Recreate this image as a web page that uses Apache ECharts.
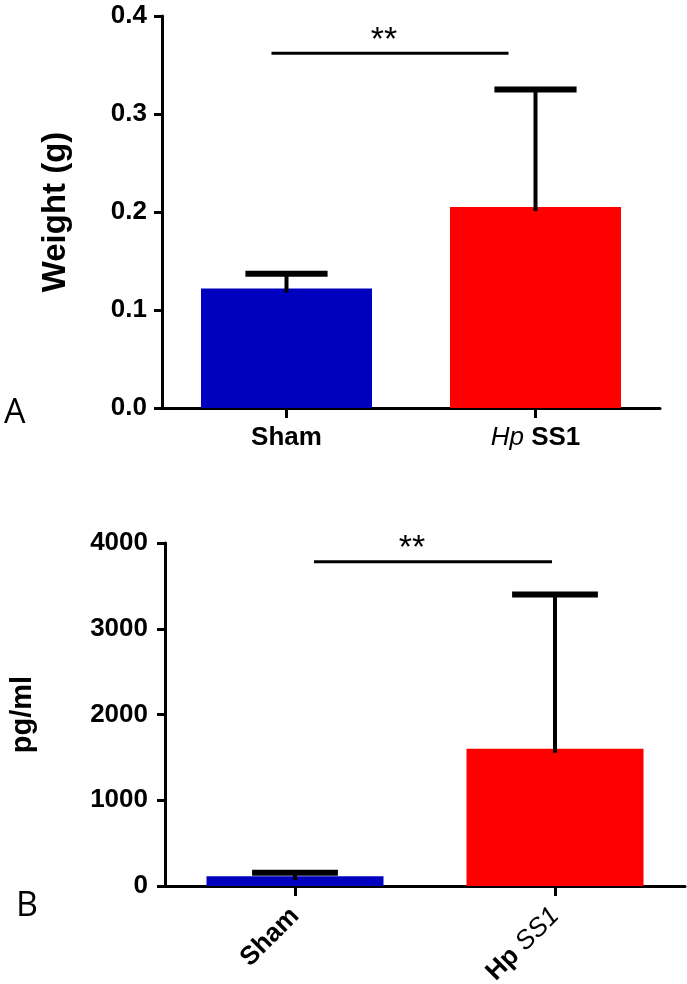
<!DOCTYPE html>
<html><head><meta charset="utf-8">
<script src="https://cdn.jsdelivr.net/npm/echarts@6/dist/echarts.min.js"></script>
<style>html,body{margin:0;padding:0;background:#fff}#c{width:687px;height:984px}</style>
</head><body><div id="c"></div>
<script>
// ---- data ----
var categories = ['Sham', 'Hp SS1'];
var weightMean = [0.122, 0.205];
var weightUpper = [0.137, 0.325];
var weightSig = 0.362;
var weightTicks = [0, 0.1, 0.2, 0.3, 0.4];
var pgMean = [115, 1600];
var pgUpper = [155, 3400];
var pgSig = 3780;
var pgTicks = [0, 1000, 2000, 3000, 4000];
var barColors = ['#0000BF', '#FF0000'];

var SANS = '"Liberation Sans",Arial,sans-serif';

function errRender(params, api) {
  var i = api.value(0);
  var top = api.coord([i, api.value(2)]);
  var base = api.coord([i, api.value(1)]);
  var half = api.size([1, 0])[0] * 0.165;
  return {type: 'group', children: [
    {type: 'line', shape: {x1: top[0], y1: top[1], x2: base[0], y2: base[1] + 4}, style: {stroke: '#000', lineWidth: 4}},
    {type: 'line', shape: {x1: top[0] - half, y1: top[1], x2: top[0] + half, y2: top[1]}, style: {stroke: '#000', lineWidth: 6}}
  ]};
}
function sigRender(offA, offB, textShift) {
  return function (params, api) {
    var a = api.coord([0, api.value(2)]);
    var b = api.coord([1, api.value(2)]);
    var x1 = a[0] + offA, x2 = b[0] + offB;
    return {type: 'group', children: [
      {type: 'line', shape: {x1: x1, y1: a[1], x2: x2, y2: a[1]}, style: {stroke: '#000', lineWidth: 3}},
      {type: 'text', style: {text: '**', x: (x1 + x2) / 2 + textShift, y: a[1] + 4, align: 'center', verticalAlign: 'bottom', font: '34px ' + SANS, fill: '#000'}}
    ]};
  };
}

var chart = echarts.init(document.getElementById('c'), null, {renderer: 'canvas'});
var axisLine = {show: true, lineStyle: {color: '#000', width: 3}};
var axisTick = {show: true, inside: false, lineStyle: {color: '#000', width: 3}};

chart.setOption({
  animation: false,
  backgroundColor: '#fff',
  graphic: [
    {type: 'text', left: 4, top: 396, style: {text: 'A', font: '34px "Open Sans",sans-serif', fill: '#000'}},
    {type: 'text', left: 16, top: 889, style: {text: 'B', font: '34px "Open Sans",sans-serif', fill: '#000'}}
  ],
  grid: [
    {left: 162, top: 16, width: 498, height: 392, outerBoundsMode: 'none', containLabel: false},
    {left: 165, top: 543, width: 520, height: 343, outerBoundsMode: 'none', containLabel: false}
  ],
  xAxis: [
    {gridIndex: 0, type: 'category', data: categories, boundaryGap: true,
     axisLine: axisLine, axisTick: Object.assign({alignWithLabel: true, length: 10}, axisTick),
     axisLabel: {margin: 17, color: '#000', fontFamily: SANS, fontSize: 26, fontWeight: 'bold',
       formatter: function (v) { return v === 'Hp SS1' ? '{i|Hp} {b|SS1}' : '{b|' + v + '}'; },
       rich: {i: {fontFamily: SANS, fontSize: 26, fontStyle: 'italic', fontWeight: 'normal', color: '#000'},
              b: {fontFamily: SANS, fontSize: 26, fontWeight: 'bold', color: '#000'}}},
     splitLine: {show: false}},
    {gridIndex: 1, type: 'category', data: categories, boundaryGap: true,
     axisLine: axisLine, axisTick: Object.assign({alignWithLabel: true, length: 10}, axisTick),
     axisLabel: {margin: 26, rotate: 45, color: '#000', fontFamily: SANS, fontSize: 26, fontWeight: 'bold',
       formatter: function (v) { return v === 'Hp SS1' ? '{b|Hp} {i|SS1}' : '{b|' + v + '}'; },
       rich: {i: {fontFamily: SANS, fontSize: 26, fontStyle: 'italic', fontWeight: 'normal', color: '#000'},
              b: {fontFamily: SANS, fontSize: 26, fontWeight: 'bold', color: '#000'}}},
     splitLine: {show: false}}
  ],
  yAxis: [
    {gridIndex: 0, type: 'value', min: weightTicks[0], max: weightTicks[weightTicks.length - 1], interval: 0.1,
     name: 'Weight (g)', nameLocation: 'middle', nameRotate: 90, nameGap: 90,
     nameTextStyle: {fontFamily: SANS, fontSize: 33, fontWeight: 'bold', color: '#000'},
     axisLine: axisLine, axisTick: Object.assign({length: 8}, axisTick),
     axisLabel: {margin: 15, color: '#000', fontFamily: SANS, fontSize: 26, fontWeight: 'bold',
       formatter: function (v) { return v.toFixed(1); }},
     splitLine: {show: false}},
    {gridIndex: 1, type: 'value', min: pgTicks[0], max: pgTicks[pgTicks.length - 1], interval: 1000,
     name: 'pg/ml', nameLocation: 'middle', nameRotate: 90, nameGap: 128,
     nameTextStyle: {fontFamily: SANS, fontSize: 29, fontWeight: 'bold', color: '#000'},
     axisLine: axisLine, axisTick: Object.assign({length: 8}, axisTick),
     axisLabel: {margin: 17, color: '#000', fontFamily: SANS, fontSize: 26, fontWeight: 'bold',
       formatter: function (v) { return String(v); }},
     splitLine: {show: false}}
  ],
  series: [
    {type: 'bar', xAxisIndex: 0, yAxisIndex: 0, barWidth: 171, z: 2,
     data: weightMean.map(function (v, i) { return {value: v, itemStyle: {color: barColors[i]}}; })},
    {type: 'custom', xAxisIndex: 0, yAxisIndex: 0, z: 3, renderItem: errRender,
     data: weightMean.map(function (v, i) { return [i, v, weightUpper[i]]; })},
    {type: 'custom', xAxisIndex: 0, yAxisIndex: 0, z: 3, renderItem: sigRender(-15, -27, -6),
     data: [[0, 1, weightSig]]},
    {type: 'bar', xAxisIndex: 1, yAxisIndex: 1, barWidth: 177, z: 2,
     data: pgMean.map(function (v, i) { return {value: v, itemStyle: {color: barColors[i]}}; })},
    {type: 'custom', xAxisIndex: 1, yAxisIndex: 1, z: 3, renderItem: errRender,
     data: pgMean.map(function (v, i) { return [i, v, pgUpper[i]]; })},
    {type: 'custom', xAxisIndex: 1, yAxisIndex: 1, z: 3, renderItem: sigRender(19, -3, -21),
     data: [[0, 1, pgSig]]}
  ]
});
</script></body></html>
